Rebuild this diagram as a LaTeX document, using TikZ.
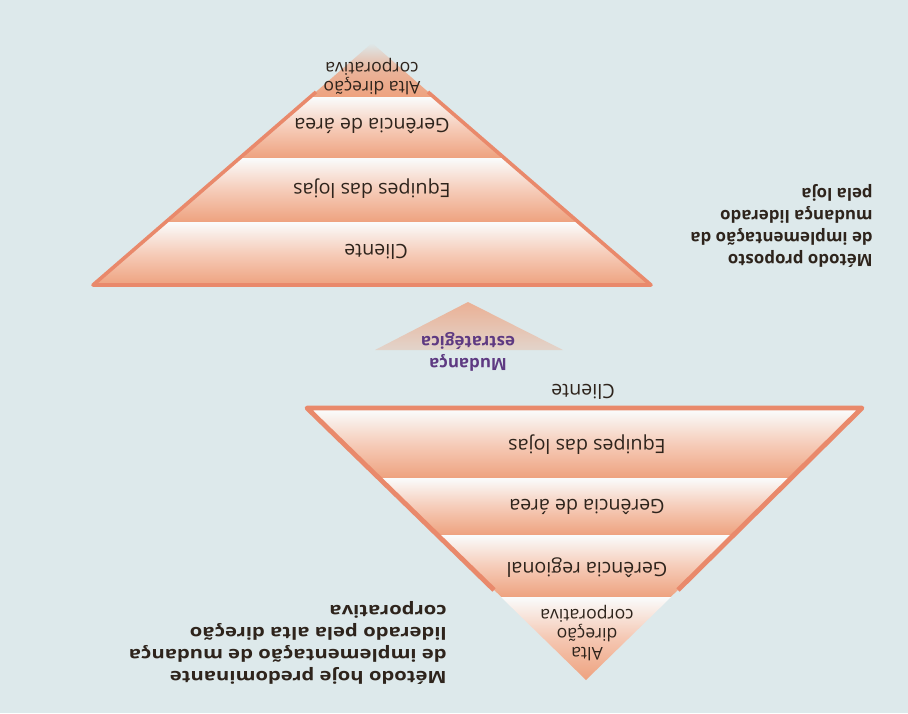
\documentclass[tikz,border=0pt]{standalone}
\usepackage{fontspec}
\setmainfont{Open Sans}
\newfontfamily\widefont[FakeStretch=1.2]{Open Sans}
\usetikzlibrary{arrows.meta}
\definecolor{paper}{HTML}{DDE9EB}
\definecolor{salmon}{HTML}{EEA27F}
\definecolor{rim}{HTML}{E9896B}
\definecolor{ink}{HTML}{2E241C}
\definecolor{plum}{HTML}{5E3A82}
\def \lblfont {\fontsize{14}{15}\selectfont}
\def \tipfont {\fontsize{12.5}{13.5}\selectfont}
\def \sidefont {\fontsize{12}{15.6}\selectfont\bfseries}

\begin{document}
\begin{tikzpicture}[x=0.025cm,y=-0.025cm]
\tikzstyle{band}=[top color=white!85!paper, bottom color=salmon, middle color=white!45!salmon];
\tikzstyle{lbl}=[rotate=180,font=\lblfont,text=ink,align=center,inner sep=0pt];
\tikzstyle{side}=[rotate=180,font=\sidefont,text=ink,align=left,inner sep=0pt,anchor=west];
\useasboundingbox (0,0) rectangle (908,713);
\fill[paper] (0,0) rectangle (908,713);
% proposed pyramid
\shade[top color=paper, bottom color=salmon, middle color=salmon!75!paper]
  (372,43) -- (434,97) -- (310,97) -- cycle;
\foreach \ya/\yb in {97/158, 158/222, 222/285}
  \shade[band] ({372-1.153*(\ya-43)},\ya) -- ({372+1.153*(\ya-43)},\ya)
    -- ({372+1.153*(\yb-43)},\yb) -- ({372-1.153*(\yb-43)},\yb) -- cycle;
\draw[rim,line width=0.09cm,line join=round] (316,92) -- (93,285) -- (651,285) -- (428,92);
% today's pyramid
\foreach \ya/\yb in {410/478, 478/535, 535/597}
  \shade[band] ({586-1.02*(680-\ya)},\ya) -- ({586+1.02*(680-\ya)},\ya)
    -- ({586+1.02*(680-\yb)},\yb) -- ({586-1.02*(680-\yb)},\yb) -- cycle;
\shade[top color=white!85!paper, bottom color=salmon, middle color=salmon!60!white]
  (501,597) -- (671,597) -- (586,680) -- cycle;
\draw[rim,line width=0.12cm,line join=round] (494,590) -- (307,408) -- (862,408) -- (678,590);
% strategic change
\shade[top color=salmon!80!paper, bottom color=paper!70!salmon] (468,302) -- (563,350) -- (375,350) -- cycle;

\node (tA) [lbl,font=\tipfont] at (372,77) {Alta direção\\corporativa};
\node (tG) [lbl] at (372,126) {Gerência de área};
\node (tE) [lbl] at (372,189) {Equipes das lojas};
\node (tC) [lbl] at (376,252) {Cliente};
\node (prop) [side] at (873,226) {Método proposto\\de implementação da\\mudança liderado\\pela loja};
\node (mud) [lbl,font=\sidefont,text=plum] at (468,352) {Mudança\\estratégica};
\node (bC) [lbl] at (583,392) {Cliente};
\node (bE) [lbl] at (587,445) {Equipes das lojas};
\node (bG) [lbl] at (587,507) {Gerência de área};
\node (bR) [lbl] at (587,568) {Gerência regional};
\node (bA) [lbl,font=\tipfont] at (587,633) {Alta\\direção\\corporativa};
\node (hoje) [side,font=\sidefont\widefont] at (447,643) {Método hoje predominante\\de implementação de mudança\\liderado pela alta direção\\corporativa};
\end{tikzpicture}
\end{document}
